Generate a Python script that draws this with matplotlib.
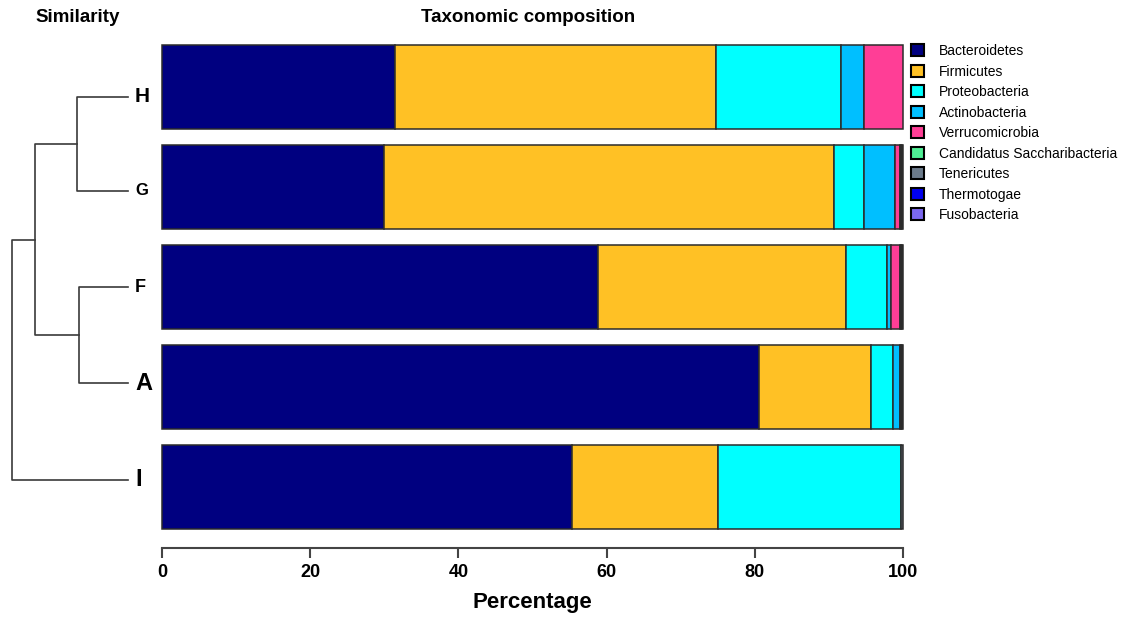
import numpy as np
import matplotlib
matplotlib.use('Agg')
import matplotlib.pyplot as plt
from matplotlib.patches import Patch

plt.rcParams['font.family'] = ['Liberation Sans', 'DejaVu Sans']

# samples, top to bottom
samples = ['H', 'G', 'F', 'A', 'I']
label_sizes = [15, 12, 13, 17, 17]

phyla = ['Bacteroidetes', 'Firmicutes', 'Proteobacteria', 'Actinobacteria',
         'Verrucomicrobia', 'Candidatus Saccharibacteria', 'Tenericutes',
         'Thermotogae', 'Fusobacteria']
colors = ['#000080', '#FFC125', '#00FFFF', '#00BFFF', '#FF3E96',
          '#4EEE94', '#6C7B8B', '#0000EE', '#7B68EE']

# percentage per phylum, samples in order H, G, F, A, I
bacteroidetes = [31.5, 29.9, 58.9, 80.6, 55.3]
firmicutes = [43.3, 60.8, 33.4, 15.1, 19.8]
proteobacteria = [16.8, 4.0, 5.6, 3.0, 24.6]
actinobacteria = [3.1, 4.2, 0.5, 0.9, 0.0]
verrucomicrobia = [5.3, 0.7, 1.2, 0.1, 0.0]
saccharibacteria = [0.0, 0.1, 0.1, 0.1, 0.0]
tenericutes = [0.0, 0.2, 0.2, 0.2, 0.3]
thermotogae = [0.0, 0.1, 0.1, 0.0, 0.0]
fusobacteria = [0.0, 0.0, 0.0, 0.0, 0.0]

table = [bacteroidetes, firmicutes, proteobacteria, actinobacteria,
         verrucomicrobia, saccharibacteria, tenericutes, thermotogae,
         fusobacteria]

# dendrogram: leaf heights (y) and merge distances
leaf_y = {'H': 3.9, 'G': 2.96, 'F': 2.0, 'A': 1.04, 'I': 0.07}
d_HG = 51
d_FA = 49
d_HGFA = 93
d_root = 116

W, H = 1126, 617
fig = plt.figure(figsize=(W / 100, H / 100), dpi=100)

ylim = (-0.61, 4.52)
ax_bot = (H - 548) / H
ax_h = 513 / H

# stacked bars
ax = fig.add_axes([162 / W, ax_bot, (903 - 162) / W, ax_h])
ypos = np.arange(len(samples))[::-1]
left = np.zeros(len(samples))
for vals, col in zip(table, colors):
    vals = np.array(vals)
    keep = vals > 0
    ax.barh(ypos[keep], vals[keep], left=left[keep], height=0.84,
            color=col, edgecolor='#2b2b2b', linewidth=1.1, clip_on=False)
    left += vals

ax.set_xlim(0, 100)
ax.set_ylim(*ylim)
for s in ['top', 'right', 'left']:
    ax.spines[s].set_visible(False)
ax.spines['bottom'].set_color('#444444')
ax.spines['bottom'].set_linewidth(1.5)
ax.set_yticks([])
ax.set_xticks([0, 20, 40, 60, 80, 100])
ax.tick_params(axis='x', direction='out', length=7.5, width=1.5,
               color='#444444', pad=4)
for t in ax.get_xticklabels():
    t.set_fontsize(13)
    t.set_fontweight('bold')
    t.set_family(['Liberation Sans Narrow', 'Liberation Sans'])
ax.set_xlabel('Percentage', fontsize=16, fontweight='bold', labelpad=8)

# dendrogram
dax = fig.add_axes([0, ax_bot, 162 / W, ax_h])
dax.set_xlim(128, -34)
dax.set_ylim(*ylim)
dax.axis('off')
lc = dict(color='#3a3a3a', lw=1.2)
yHG = (leaf_y['H'] + leaf_y['G']) / 2
yFA = (leaf_y['F'] + leaf_y['A']) / 2
yTop = (yHG + yFA) / 2
dax.plot([0, d_HG, d_HG, 0], [leaf_y['H'], leaf_y['H'], leaf_y['G'], leaf_y['G']], **lc)
dax.plot([0, d_FA, d_FA, 0], [leaf_y['F'], leaf_y['F'], leaf_y['A'], leaf_y['A']], **lc)
dax.plot([d_HG, d_HGFA, d_HGFA, d_FA], [yHG, yHG, yFA, yFA], **lc)
dax.plot([d_HGFA, d_root, d_root, 0], [yTop, yTop, leaf_y['I'], leaf_y['I']], **lc)
for name, fs in zip(samples, label_sizes):
    dax.text(-7, leaf_y[name], name, fontsize=fs, fontweight='bold',
             ha='left', va='center')

fig.text(35 / W, 1 - 18 / H, 'Similarity', fontsize=13.5, fontweight='bold',
         ha='left', va='center')
fig.text(528 / W, 1 - 18 / H, 'Taxonomic composition', fontsize=13.5,
         fontweight='bold', ha='center', va='center')

handles = [Patch(facecolor=c, edgecolor='black', linewidth=1.5) for c in colors]
fig.legend(handles, phyla, loc='upper left', bbox_to_anchor=(911 / W, 1 - 44 / H),
           frameon=False, handlelength=0.95, handleheight=0.95,
           handletextpad=1.05, labelspacing=0.47, borderpad=0, borderaxespad=0,
           prop={'family': ['Liberation Sans Narrow', 'Liberation Sans'], 'size': 10})

plt.savefig('out.png', dpi=100)
